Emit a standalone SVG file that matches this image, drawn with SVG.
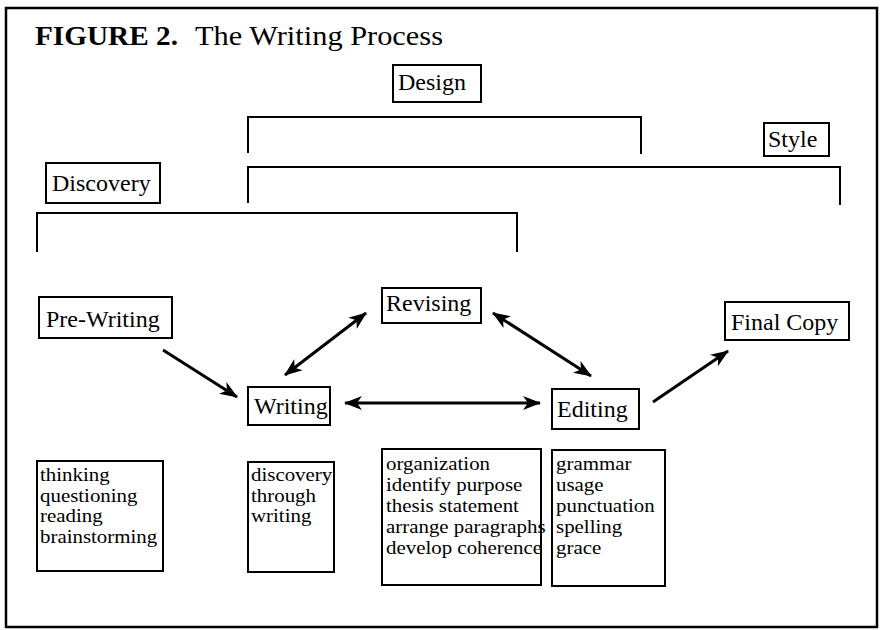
<svg xmlns="http://www.w3.org/2000/svg" width="884" height="630" viewBox="0 0 884 630">
<defs>
<style>
.box{fill:#fff;stroke:#000;stroke-width:2}
.lbl{font-family:"Liberation Serif","Times New Roman",serif;font-size:24px;fill:#000}
.lst{font-family:"Liberation Serif","Times New Roman",serif;font-size:19px;fill:#000}
.br{fill:none;stroke:#000;stroke-width:2}
.ar{stroke:#000;stroke-width:3;fill:none}
</style>
<marker id="ah" viewBox="0 0 18 14" markerWidth="18" markerHeight="14" refX="17" refY="7" orient="auto-start-reverse" markerUnits="userSpaceOnUse">
<path d="M0,0 L18,7 L0,14 L5,7 z" fill="#000"/>
</marker>
</defs>
<rect width="884" height="630" fill="#fff"/>
<rect x="6" y="8" width="871" height="619" fill="none" stroke="#000" stroke-width="2.5"/>
<g id="title">
<text x="35" y="45" font-family="Liberation Serif, serif" font-size="28" font-weight="bold" textLength="143" lengthAdjust="spacingAndGlyphs">FIGURE 2.</text>
<text x="195" y="45" font-family="Liberation Serif, serif" font-size="28" textLength="248" lengthAdjust="spacingAndGlyphs">The Writing Process</text>
</g>
<g id="brackets">
<path class="br" d="M248,153 V117 H641 V154"/>
<path class="br" d="M248,203 V167 H840 V205"/>
<path class="br" d="M37,252 V213 H517 V252"/>
</g>
<g id="design"><rect class="box" x="393" y="65" width="88" height="37"/><text class="lbl" x="398" y="90">Design</text></g>
<g id="style"><rect class="box" x="764" y="123" width="65" height="33"/><text class="lbl" x="768" y="147">Style</text></g>
<g id="discovery"><rect class="box" x="46" y="163" width="114" height="40"/><text class="lbl" x="52" y="191">Discovery</text></g>
<g id="prewriting"><rect class="box" x="39" y="297" width="133" height="41"/><text class="lbl" x="46" y="327">Pre-Writing</text></g>
<g id="revising"><rect class="box" x="382" y="288" width="99" height="35"/><text class="lbl" x="386" y="311">Revising</text></g>
<g id="finalcopy"><rect class="box" x="725" y="302" width="124" height="38"/><text class="lbl" x="731" y="330">Final Copy</text></g>
<g id="writing"><rect class="box" x="248" y="387" width="82" height="38"/><text class="lbl" x="254" y="414">Writing</text></g>
<g id="editing"><rect class="box" x="552" y="389" width="87" height="40"/><text class="lbl" x="557" y="417">Editing</text></g>
<g id="connectors">
<line class="ar" x1="163" y1="350" x2="237" y2="397" marker-end="url(#ah)"/>
<line class="ar" x1="285" y1="375" x2="366" y2="313" marker-start="url(#ah)" marker-end="url(#ah)"/>
<line class="ar" x1="493" y1="313" x2="591" y2="376" marker-start="url(#ah)" marker-end="url(#ah)"/>
<line class="ar" x1="345" y1="403" x2="540" y2="403" stroke-width="2" marker-start="url(#ah)" marker-end="url(#ah)"/>
<line class="ar" x1="653" y1="402" x2="728" y2="351" marker-end="url(#ah)"/>
</g>
<g id="list-prewriting"><rect class="box" x="37" y="461" width="126" height="110"/>
<g transform="translate(40,0) scale(1.1,1)"><text class="lst" x="0" y="481">thinking</text><text class="lst" x="0" y="502">questioning</text><text class="lst" x="0" y="522">reading</text><text class="lst" x="0" y="543">brainstorming</text></g></g>
<g id="list-writing"><rect class="box" x="248" y="462" width="86" height="110"/>
<g transform="translate(251,0) scale(1.1,1)"><text class="lst" x="0" y="481">discovery</text><text class="lst" x="0" y="502">through</text><text class="lst" x="0" y="522">writing</text></g></g>
<g id="list-revising"><rect class="box" x="382" y="449" width="159" height="136"/>
<g transform="translate(386,0) scale(1.1,1)"><text class="lst" x="0" y="470">organization</text><text class="lst" x="0" y="491">identify purpose</text><text class="lst" x="0" y="512">thesis statement</text><text class="lst" x="0" y="533">arrange paragraphs</text><text class="lst" x="0" y="554">develop coherence</text></g></g>
<g id="list-editing"><rect class="box" x="552" y="450" width="113" height="136"/>
<g transform="translate(556,0) scale(1.1,1)"><text class="lst" x="0" y="470">grammar</text><text class="lst" x="0" y="491">usage</text><text class="lst" x="0" y="512">punctuation</text><text class="lst" x="0" y="533">spelling</text><text class="lst" x="0" y="554">grace</text></g></g>
</svg>
